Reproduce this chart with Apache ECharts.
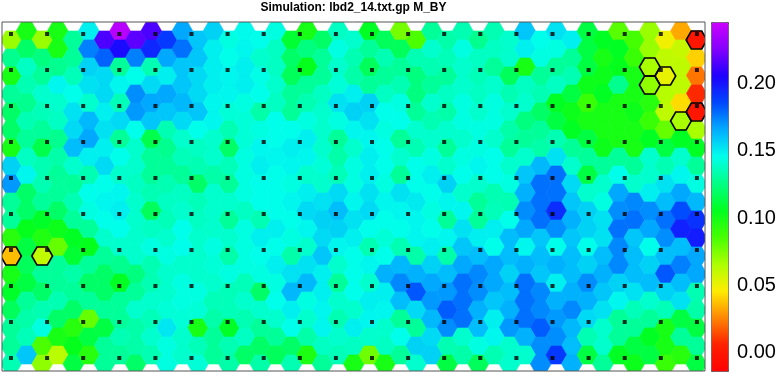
<!DOCTYPE html>
<html><head><meta charset="utf-8">
<script src="https://cdn.jsdelivr.net/npm/echarts@6/dist/echarts.min.js"></script>
<style>html,body{margin:0;padding:0;background:#fff}#c{width:783px;height:373px}</style>
</head><body><div id="c"></div><script>
const titleText = 'Simulation: lbd2_14.txt.gp M_BY';
// hex values, one array per hex row, 45 columns each (even columns sit half a row lower)
const row00 = [.07,.10,.07,.10,.13,.15,.215,.24,.218,.215,.19,.167,.16,.157,.144,.147,.146,.144,.11,.10,.12,.138,.14,.107,.118,.077,.085,.13,.133,.135,.128,.135,.14,.16,.146,.153,.15,.113,.107,.083,.087,.07,.05,.033,.0];
const row01 = [.128,.12,.125,.10,.13,.175,.181,.203,.175,.195,.167,.178,.16,.15,.146,.148,.14,.138,.12,.125,.13,.144,.135,.13,.135,.118,.135,.14,.136,.144,.138,.138,.14,.15,.144,.144,.13,.113,.10,.107,.09,.07,.062,.06,.041];
const row02 = [.10,.138,.13,.128,.136,.157,.155,.13,.146,.135,.15,.16,.155,.15,.148,.15,.145,.138,.118,.105,.13,.14,.133,.118,.13,.13,.125,.135,.13,.14,.136,.13,.118,.10,.13,.13,.135,.113,.103,.105,.10,.067,.052,.062,.023];
const row03 = [.13,.135,.14,.148,.146,.153,.155,.148,.172,.155,.167,.16,.155,.15,.148,.15,.146,.14,.13,.13,.138,.142,.15,.13,.138,.135,.125,.13,.138,.14,.138,.14,.135,.138,.135,.138,.113,.103,.107,.128,.10,.072,.064,.062,.008];
const row04 = [.12,.128,.136,.14,.153,.14,.15,.136,.17,.167,.16,.163,.16,.148,.142,.144,.133,.138,.13,.135,.14,.153,.157,.157,.146,.144,.13,.14,.133,.144,.14,.144,.14,.14,.12,.107,.103,.09,.10,.10,.103,.095,.062,.043,.0];
const row05 = [.12,.135,.13,.138,.155,.163,.153,.155,.146,.16,.135,.155,.146,.148,.135,.142,.144,.146,.146,.144,.14,.144,.148,.153,.144,.146,.14,.135,.14,.144,.144,.144,.133,.125,.13,.113,.107,.10,.10,.10,.10,.09,.08,.067,.067];
const row06 = [.10,.13,.115,.128,.162,.167,.15,.13,.14,.115,.128,.14,.138,.14,.12,.142,.148,.146,.15,.15,.14,.13,.14,.148,.146,.13,.135,.14,.13,.14,.144,.14,.13,.13,.133,.135,.13,.113,.103,.10,.10,.107,.113,.107,.107];
const row07 = [.157,.138,.135,.133,.14,.15,.155,.146,.14,.13,.13,.136,.135,.14,.136,.144,.15,.148,.148,.148,.142,.133,.144,.15,.146,.14,.146,.144,.14,.144,.148,.146,.14,.14,.163,.153,.14,.13,.13,.13,.13,.14,.135,.14,.13];
const row08 = [.17,.148,.135,.13,.13,.135,.146,.14,.138,.13,.135,.13,.12,.133,.13,.144,.146,.146,.144,.14,.14,.136,.144,.15,.144,.13,.146,.15,.157,.146,.14,.146,.144,.16,.178,.178,.155,.113,.14,.146,.14,.14,.153,.148,.144];
const row09 = [.13,.12,.13,.13,.135,.146,.148,.148,.14,.135,.138,.138,.136,.14,.14,.144,.146,.146,.148,.15,.153,.155,.148,.153,.148,.153,.151,.146,.148,.14,.13,.135,.135,.165,.178,.178,.16,.14,.144,.167,.173,.15,.162,.167,.163];
const row10 = [.13,.12,.108,.12,.13,.144,.146,.15,.14,.118,.136,.14,.138,.14,.13,.138,.135,.146,.146,.155,.157,.162,.153,.155,.146,.148,.148,.144,.13,.148,.13,.136,.146,.172,.178,.193,.165,.157,.153,.172,.178,.172,.178,.185,.192];
const row11 = [.095,.105,.097,.103,.107,.13,.14,.146,.14,.138,.14,.146,.14,.14,.14,.144,.15,.15,.144,.148,.155,.157,.15,.146,.142,.146,.148,.146,.148,.153,.15,.15,.162,.167,.16,.172,.16,.157,.153,.178,.16,.167,.172,.197,.198];
const row12 = [.037,.113,.061,.08,.11,.105,.13,.14,.14,.144,.144,.146,.14,.144,.133,.144,.146,.146,.133,.14,.16,.148,.146,.135,.146,.135,.133,.15,.133,.16,.162,.146,.162,.148,.162,.146,.162,.146,.162,.173,.162,.146,.162,.162,.167];
const row13 = [.10,.118,.13,.13,.133,.13,.12,.128,.125,.135,.14,.14,.14,.142,.144,.144,.144,.15,.153,.153,.15,.14,.146,.148,.165,.163,.165,.157,.162,.167,.173,.167,.157,.165,.16,.165,.162,.157,.165,.173,.162,.157,.183,.175,.167];
const row14 = [.108,.113,.12,.13,.13,.12,.12,.107,.13,.135,.14,.144,.144,.14,.136,.136,.12,.144,.163,.163,.15,.13,.146,.14,.15,.173,.183,.167,.17,.178,.172,.167,.162,.178,.173,.15,.165,.172,.16,.157,.153,.162,.157,.162,.135];
const row15 = [.118,.13,.135,.135,.12,.13,.13,.13,.14,.14,.142,.144,.142,.136,.136,.14,.14,.146,.15,.144,.148,.14,.14,.15,.148,.162,.155,.17,.182,.178,.165,.16,.165,.178,.173,.165,.173,.165,.153,.148,.136,.14,.136,.153,.133];
const row16 = [.13,.133,.144,.12,.095,.08,.113,.13,.133,.136,.152,.142,.10,.133,.108,.135,.13,.14,.146,.14,.148,.135,.15,.148,.14,.13,.13,.163,.172,.178,.162,.15,.17,.178,.182,.17,.163,.155,.14,.13,.13,.13,.10,.113,.113];
const row17 = [.13,.136,.085,.10,.105,.113,.13,.135,.133,.14,.144,.14,.136,.13,.135,.138,.12,.13,.12,.133,.138,.14,.138,.14,.138,.146,.157,.155,.135,.14,.144,.148,.14,.165,.172,.172,.162,.135,.14,.13,.113,.107,.10,.13,.13];
const row18 = [.135,.16,.072,.063,.113,.095,.13,.13,.12,.135,.144,.14,.142,.13,.133,.12,.133,.118,.135,.098,.13,.136,.10,.078,.10,.13,.14,.157,.113,.133,.118,.135,.14,.14,.172,.19,.165,.113,.13,.107,.103,.113,.09,.095,.113];
const hexRows = [row00,row01,row02,row03,row04,row05,row06,row07,row08,row09,row10,row11,row12,row13,row14,row15,row16,row17,row18];
// outlined hexes: [column, row]
const outlinedHexes = [[0,12],[2,12],[44,0],[41,2],[41,3],[42,2],[44,4],[43,5]];
// neuron dot grid indices
const dotColumns = [0,1,2,3,4,5,6,7,8,9,10,11,12,13,14,15,16,17,18,19];
const dotRowsIdx = [0,1,2,3,4,5,6,7,8,9];
// colour bar
const barMin = -0.0134, barMax = 0.2457;
const tickValues = [0, 0.05, 0.10, 0.15, 0.20];
const tickLabels = ['0.00', '0.05', '0.10', '0.15', '0.20'];
const palette = ['#ff0000','#ff2100','#ff8700','#ffed00','#acff00','#46ff00','#00ff1f','#00ff85','#00ffeb','#00adff','#0048ff','#1e00ff','#8300ff','#cc00ff'];

const hexData = [];
hexRows.forEach((vals, r) => vals.forEach((v, c) => hexData.push([c, r + (c % 2 === 0 ? 0.5 : 0), v])));
const outlineData = outlinedHexes.map(([c, r]) => [c, r + (c % 2 === 0 ? 0.5 : 0)]);
const dotData = [];
dotRowsIdx.forEach(j => dotColumns.forEach(k => dotData.push([k, j])));

function hexPoints(api) {
  const p = api.coord([api.value(0), api.value(1)]);
  const s = api.size([1, 1]);
  const a = s[0] * 2 / 3, b = s[0] / 3, h = s[1] / 2;
  return [[p[0]-a,p[1]],[p[0]-b,p[1]-h],[p[0]+b,p[1]-h],[p[0]+a,p[1]],[p[0]+b,p[1]+h],[p[0]-b,p[1]+h]];
}

const chart = echarts.init(document.getElementById('c'));
chart.setOption({
  animation: false,
  backgroundColor: '#fff',
  title: {
    text: titleText, left: 353.5, top: 2, textAlign: 'center', padding: 0,
    textStyle: {fontSize: 12, fontWeight: 'bold', color: '#000', fontFamily: 'Liberation Sans, Arial, sans-serif'}
  },
  grid: [
    {left: 2, top: 22, width: 703, height: 349, show: false},
    {left: 2, top: 22, width: 703, height: 349, show: true, backgroundColor: 'transparent', borderColor: '#555', borderWidth: 1, z: 20},
    {left: 711, top: 22, width: 17, height: 349, show: false}
  ],
  xAxis: [
    {gridIndex: 0, type: 'value', min: -0.578, max: 44.545, show: false},
    {gridIndex: 1, type: 'value', min: -0.249, max: 19.224, show: false},
    {gridIndex: 2, type: 'value', min: 0, max: 1, show: false}
  ],
  yAxis: [
    {gridIndex: 0, type: 'value', min: -0.5, max: 18.889, inverse: true, show: false},
    {gridIndex: 1, type: 'value', min: -0.333, max: 9.361, inverse: true, show: false},
    {gridIndex: 2, type: 'value', min: barMin, max: barMax, position: 'right',
     axisLine: {show: false}, splitLine: {show: false},
     axisTick: {show: true, length: 5, customValues: tickValues, lineStyle: {color: '#333', width: 1}},
     axisLabel: {customValues: tickValues, fontSize: 20, margin: 9, color: '#000', fontFamily: 'Liberation Sans, Arial, sans-serif',
       formatter: v => { const i = tickValues.findIndex(t => Math.abs(t - v) < 1e-9); return i >= 0 ? tickLabels[i] : v.toFixed(2); }}
    }
  ],
  visualMap: {
    type: 'continuous', min: barMin, max: barMax, seriesIndex: 0, dimension: 2,
    left: 711, top: 22, itemWidth: 17, itemHeight: 349, padding: 0, calculable: false,
    inRange: {color: palette}, borderColor: '#555', borderWidth: 1
  },
  series: [
    {
      type: 'custom', xAxisIndex: 0, yAxisIndex: 0, data: hexData, clip: true, z: 2,
      renderItem: (params, api) => {
        const col = api.visual('color');
        return {type: 'polygon', shape: {points: hexPoints(api)}, style: {fill: col, stroke: col, lineWidth: 0.6}};
      }
    },
    {
      type: 'custom', xAxisIndex: 0, yAxisIndex: 0, data: outlineData, clip: true, z: 3,
      renderItem: (params, api) => ({type: 'polygon', shape: {points: hexPoints(api)}, style: {fill: 'none', stroke: '#000', lineWidth: 1.6}})
    },
    {
      type: 'scatter', xAxisIndex: 1, yAxisIndex: 1, data: dotData, symbol: 'rect', symbolSize: 4,
      itemStyle: {color: '#000'}, z: 5, silent: true
    }
  ]
});
</script></body></html>
